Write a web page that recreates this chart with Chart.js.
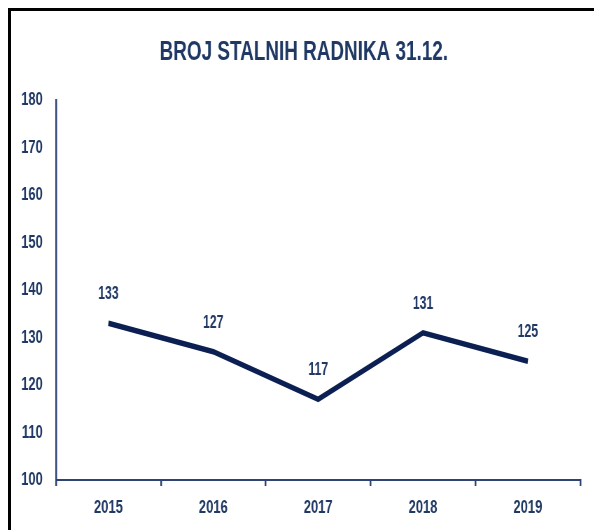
<!DOCTYPE html>
<html>
<head>
<meta charset="utf-8">
<script src="https://cdn.jsdelivr.net/npm/chart.js@4"></script>
<style>
  html, body { margin: 0; padding: 0; background: #fff; overflow: hidden; }
  #wrap { position: relative; width: 594px; height: 530px; overflow: hidden; }
  #frame { position: absolute; left: 8px; top: 8px; width: 600px; height: 600px;
           border-left: 3px solid #000; border-top: 3px solid #000; pointer-events: none; }
  #c { position: absolute; left: 0; top: 0; transform: scaleX(0.7); transform-origin: 0 0; }
</style>
</head>
<body>
<div id="wrap">
  <canvas id="c" width="849" height="530"></canvas>
  <div id="frame"></div>
</div>
<script>
const titleText = 'BROJ STALNIH RADNIKA 31.12.';
const categories = ['2015', '2016', '2017', '2018', '2019'];
const workers = [133, 127, 117, 131, 125];
const yTicks = [100, 110, 120, 130, 140, 150, 160, 170, 180];

const FONT = '"Liberation Sans", Arial, sans-serif';
const NAVY = '#1f3864';
const AXIS = '#2e4372';
const LINE = '#0b1f52';

const labelPlugin = {
  id: 'pointLabels',
  afterDatasetsDraw(chart) {
    const ctx = chart.ctx;
    const meta = chart.getDatasetMeta(0);
    ctx.save();
    ctx.font = 'bold 17.5px ' + FONT;
    ctx.fillStyle = NAVY;
    ctx.textAlign = 'center';
    ctx.textBaseline = 'middle';
    meta.data.forEach((pt, i) => {
      ctx.fillText(String(workers[i]), pt.x, pt.y - 29);
    });
    ctx.restore();
  }
};

const titlePlugin = {
  id: 'titleText',
  afterDraw(chart) {
    const ctx = chart.ctx;
    ctx.save();
    ctx.font = 'bold 27px ' + FONT;
    ctx.fillStyle = NAVY;
    ctx.textAlign = 'center';
    ctx.textBaseline = 'middle';
    ctx.fillText(titleText, 434, 53);
    ctx.restore();
  }
};

new Chart(document.getElementById('c'), {
  type: 'line',
  data: {
    labels: categories,
    datasets: [{
      data: workers,
      borderColor: LINE,
      borderWidth: 5.5,
      pointRadius: 0,
      tension: 0,
      fill: false,
      borderCapStyle: 'butt',
      borderJoinStyle: 'miter'
    }]
  },
  options: {
    responsive: false,
    animation: false,
    devicePixelRatio: 1,
    layout: { padding: { left: 0, right: 20, top: 100, bottom: 0 } },
    plugins: {
      legend: { display: false },
      tooltip: { enabled: false },
      title: { display: false }
    },
    scales: {
      x: {
        offset: true,
        grid: { display: true, drawOnChartArea: false, offset: true, color: AXIS, lineWidth: 2.5, tickLength: 6 },
        border: { display: true, color: AXIS, width: 2 },
        ticks: { color: NAVY, font: { family: FONT, size: 18.5, weight: 'bold' }, padding: 11 },
        afterFit(scale) { scale.height = 50; }
      },
      y: {
        min: 100, max: 180,
        afterBuildTicks(scale) { scale.ticks = yTicks.map(v => ({ value: v })); },
        grid: { display: false, drawTicks: false },
        border: { display: true, color: AXIS, width: 2.5 },
        ticks: { color: NAVY, font: { family: FONT, size: 18.5, weight: 'bold' }, padding: 19 },
        afterFit(scale) { scale.width = 80; }
      }
    }
  },
  plugins: [labelPlugin, titlePlugin]
});
</script>
</body>
</html>
